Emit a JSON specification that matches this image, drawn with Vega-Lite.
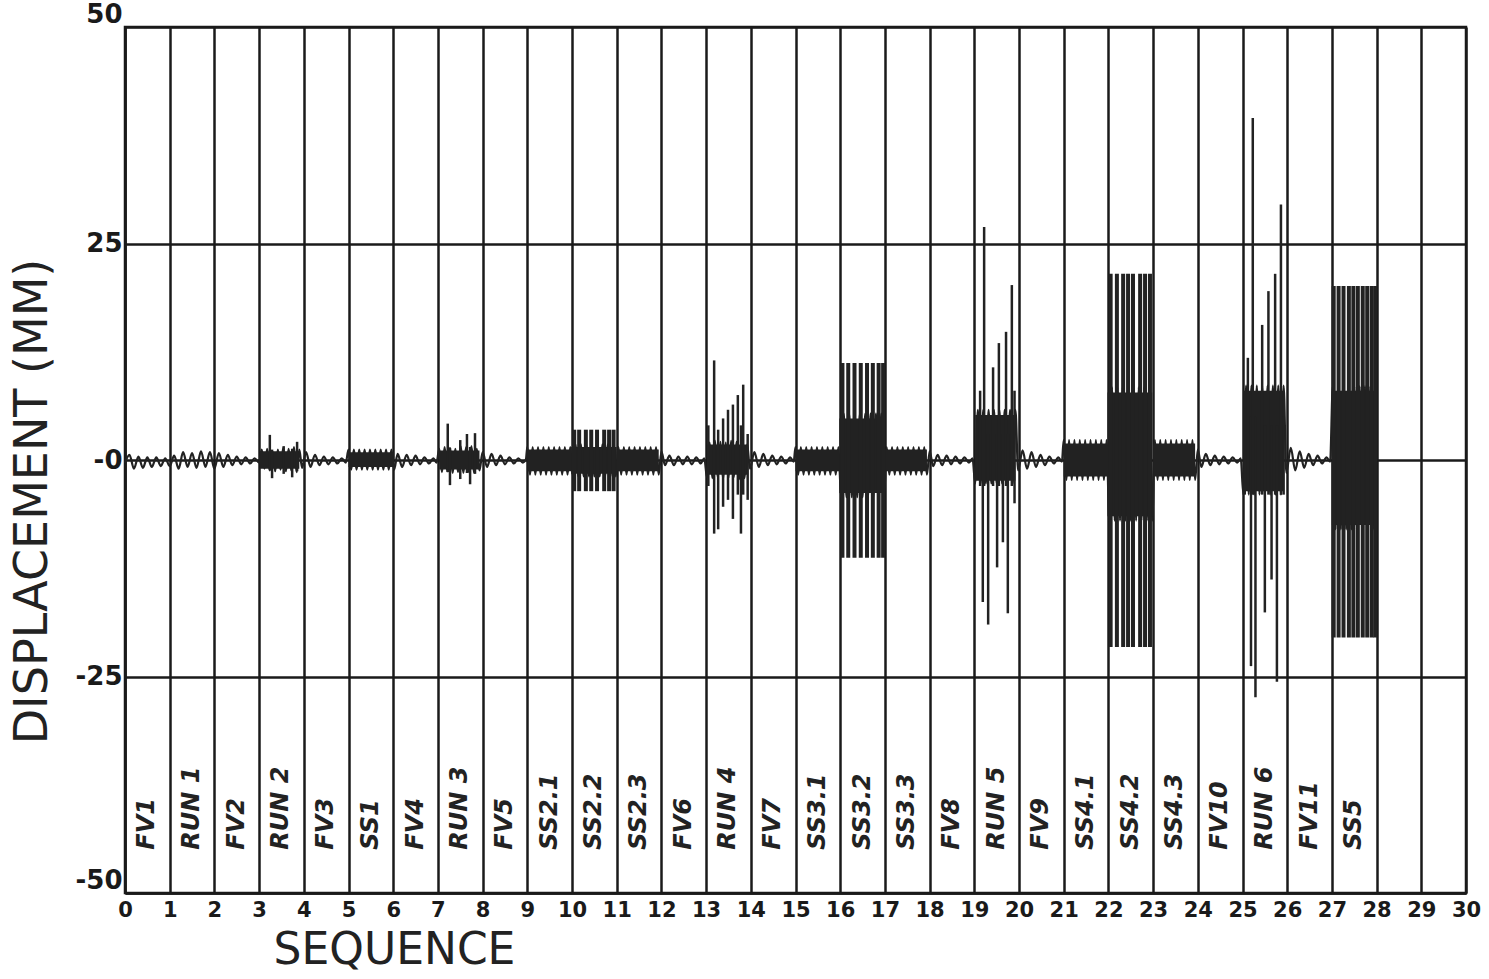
{
  "$schema": "https://vega.github.io/schema/vega-lite/v6.json",
  "width": 1341,
  "height": 866,
  "autosize": "none",
  "padding": {"left": 125, "top": 27, "right": 23, "bottom": 86},
  "background": "white",
  "view": {"stroke": "#1a1a1a", "strokeWidth": 2.5},
  "datasets": {
    "trace": [
      {"x":0,"y":-0.3},{"x":0.1,"y":0.6},{"x":0.2,"y":-1.0},{"x":0.3,"y":0.4},{"x":0.4,"y":-0.9},{"x":0.5,"y":0.3},{"x":0.6,"y":-0.8},{"x":0.7,"y":0.3},{"x":0.8,"y":-0.7},{"x":0.9,"y":0.2},
      {"x":1.0,"y":-0.7},{"x":1.1,"y":0.5},{"x":1.2,"y":-1.0},{"x":1.3,"y":0.9},{"x":1.4,"y":-0.8},{"x":1.5,"y":0.8},{"x":1.6,"y":-0.9},{"x":1.7,"y":1.0},{"x":1.8,"y":-0.8},{"x":1.9,"y":0.9},
      {"x":2.0,"y":-1.0},{"x":2.1,"y":0.8},{"x":2.2,"y":-0.8},{"x":2.3,"y":0.6},{"x":2.4,"y":-0.6},{"x":2.5,"y":0.4},{"x":2.6,"y":-0.5},{"x":2.7,"y":0.3},{"x":2.8,"y":-0.4},{"x":2.9,"y":0.2},{"x":3.0,"y":-0.3},
      {"x":3.06,"y":1.2},{"x":3.12,"y":-1.0},{"x":3.18,"y":1.3},{"x":3.24,"y":-1.2},{"x":3.3,"y":1.0},{"x":3.36,"y":-1.3},{"x":3.42,"y":1.2},{"x":3.48,"y":-1.1},{"x":3.54,"y":1.4},{"x":3.6,"y":-1.3},{"x":3.66,"y":1.3},{"x":3.72,"y":-1.2},{"x":3.78,"y":1.5},{"x":3.84,"y":-1.4},{"x":3.9,"y":1.2},
      {"x":3.96,"y":-0.9},{"x":4.05,"y":0.9},{"x":4.15,"y":-0.8},{"x":4.25,"y":0.6},{"x":4.35,"y":-0.6},{"x":4.45,"y":0.4},{"x":4.55,"y":-0.5},{"x":4.65,"y":0.3},{"x":4.75,"y":-0.4},{"x":4.85,"y":0.2},{"x":4.94,"y":-0.3},
      {"x":5.0,"y":1.2},{"x":5.06,"y":-1.1},{"x":5.12,"y":1.2},{"x":5.18,"y":-1.1},{"x":5.24,"y":1.2},{"x":5.3,"y":-1.1},{"x":5.36,"y":1.2},{"x":5.42,"y":-1.1},{"x":5.48,"y":1.2},{"x":5.54,"y":-1.1},{"x":5.6,"y":1.2},{"x":5.66,"y":-1.1},{"x":5.72,"y":1.2},{"x":5.78,"y":-1.1},{"x":5.84,"y":1.2},{"x":5.9,"y":-1.1},{"x":5.96,"y":1.2},{"x":6.02,"y":-1.1},
      {"x":6.1,"y":0.7},{"x":6.2,"y":-0.8},{"x":6.3,"y":0.6},{"x":6.4,"y":-0.6},{"x":6.5,"y":0.5},{"x":6.6,"y":-0.5},{"x":6.7,"y":0.3},{"x":6.8,"y":-0.4},{"x":6.9,"y":0.2},{"x":6.97,"y":-0.3},
      {"x":7.03,"y":1.3},{"x":7.09,"y":-1.4},{"x":7.15,"y":1.5},{"x":7.21,"y":-1.3},{"x":7.27,"y":1.4},{"x":7.33,"y":-1.5},{"x":7.39,"y":1.3},{"x":7.45,"y":-1.4},{"x":7.51,"y":1.6},{"x":7.57,"y":-1.5},{"x":7.63,"y":1.5},{"x":7.69,"y":-1.4},{"x":7.75,"y":1.6},{"x":7.81,"y":-1.5},{"x":7.87,"y":1.3},{"x":7.93,"y":-1.2},
      {"x":8.0,"y":0.9},{"x":8.1,"y":-0.8},{"x":8.2,"y":0.7},{"x":8.3,"y":-0.6},{"x":8.4,"y":0.5},{"x":8.5,"y":-0.5},{"x":8.6,"y":0.3},{"x":8.7,"y":-0.4},{"x":8.8,"y":0.2},{"x":8.9,"y":-0.3},{"x":8.97,"y":0.1},
      {"x":9.0,"y":1.5},{"x":9.06,"y":-1.7},{"x":9.12,"y":1.5},{"x":9.18,"y":-1.7},{"x":9.24,"y":1.5},{"x":9.3,"y":-1.7},{"x":9.36,"y":1.5},{"x":9.42,"y":-1.7},{"x":9.48,"y":1.5},{"x":9.54,"y":-1.7},{"x":9.6,"y":1.5},{"x":9.66,"y":-1.7},{"x":9.72,"y":1.5},{"x":9.78,"y":-1.7},{"x":9.84,"y":1.5},{"x":9.9,"y":-1.7},{"x":9.96,"y":1.5},
      {"x":10.02,"y":-1.9},{"x":10.08,"y":1.8},{"x":10.14,"y":-1.9},{"x":10.2,"y":1.8},{"x":10.26,"y":-1.9},{"x":10.32,"y":1.8},{"x":10.38,"y":-1.9},{"x":10.44,"y":1.8},{"x":10.5,"y":-1.9},{"x":10.56,"y":1.8},{"x":10.62,"y":-1.9},{"x":10.68,"y":1.8},{"x":10.74,"y":-1.9},{"x":10.8,"y":1.8},{"x":10.86,"y":-1.9},{"x":10.92,"y":1.8},{"x":10.98,"y":-1.9},
      {"x":11.04,"y":1.5},{"x":11.1,"y":-1.7},{"x":11.16,"y":1.5},{"x":11.22,"y":-1.7},{"x":11.28,"y":1.5},{"x":11.34,"y":-1.7},{"x":11.4,"y":1.5},{"x":11.46,"y":-1.7},{"x":11.52,"y":1.5},{"x":11.58,"y":-1.7},{"x":11.64,"y":1.5},{"x":11.7,"y":-1.7},{"x":11.76,"y":1.5},{"x":11.82,"y":-1.7},{"x":11.88,"y":1.5},{"x":11.94,"y":-1.7},{"x":12.0,"y":1.0},
      {"x":12.08,"y":-0.6},{"x":12.18,"y":0.5},{"x":12.28,"y":-0.6},{"x":12.38,"y":0.4},{"x":12.48,"y":-0.5},{"x":12.58,"y":0.4},{"x":12.68,"y":-0.5},{"x":12.78,"y":0.3},{"x":12.88,"y":-0.4},{"x":12.96,"y":0.2},
      {"x":13.02,"y":-2.0},{"x":13.08,"y":2.0},{"x":13.14,"y":-2.1},{"x":13.2,"y":2.2},{"x":13.26,"y":-2.0},{"x":13.32,"y":2.1},{"x":13.38,"y":-2.2},{"x":13.44,"y":2.0},{"x":13.5,"y":-2.1},{"x":13.56,"y":2.2},{"x":13.62,"y":-2.0},{"x":13.68,"y":2.1},{"x":13.74,"y":-2.2},{"x":13.8,"y":2.0},{"x":13.86,"y":-2.1},{"x":13.92,"y":1.8},
      {"x":13.98,"y":-1.0},{"x":14.08,"y":0.9},{"x":14.18,"y":-0.8},{"x":14.28,"y":0.7},{"x":14.38,"y":-0.6},{"x":14.48,"y":0.5},{"x":14.58,"y":-0.5},{"x":14.68,"y":0.4},{"x":14.78,"y":-0.4},{"x":14.88,"y":0.3},{"x":14.96,"y":-0.2},
      {"x":15.0,"y":1.5},{"x":15.06,"y":-1.7},{"x":15.12,"y":1.5},{"x":15.18,"y":-1.7},{"x":15.24,"y":1.5},{"x":15.3,"y":-1.7},{"x":15.36,"y":1.5},{"x":15.42,"y":-1.7},{"x":15.48,"y":1.5},{"x":15.54,"y":-1.7},{"x":15.6,"y":1.5},{"x":15.66,"y":-1.7},{"x":15.72,"y":1.5},{"x":15.78,"y":-1.7},{"x":15.84,"y":1.5},{"x":15.9,"y":-1.7},{"x":15.96,"y":1.5},
      {"x":16.02,"y":-4.3},{"x":16.08,"y":5.4},{"x":16.14,"y":-4.3},{"x":16.2,"y":5.4},{"x":16.26,"y":-4.3},{"x":16.32,"y":5.4},{"x":16.38,"y":-4.3},{"x":16.44,"y":5.4},{"x":16.5,"y":-4.3},{"x":16.56,"y":5.4},{"x":16.62,"y":-4.3},{"x":16.68,"y":5.4},{"x":16.74,"y":-4.3},{"x":16.8,"y":5.4},{"x":16.86,"y":-4.3},{"x":16.92,"y":5.4},{"x":16.98,"y":-4.3},
      {"x":17.04,"y":1.5},{"x":17.1,"y":-1.7},{"x":17.16,"y":1.5},{"x":17.22,"y":-1.7},{"x":17.28,"y":1.5},{"x":17.34,"y":-1.7},{"x":17.4,"y":1.5},{"x":17.46,"y":-1.7},{"x":17.52,"y":1.5},{"x":17.58,"y":-1.7},{"x":17.64,"y":1.5},{"x":17.7,"y":-1.7},{"x":17.76,"y":1.5},{"x":17.82,"y":-1.7},{"x":17.88,"y":1.5},{"x":17.94,"y":-1.7},{"x":18.0,"y":1.0},
      {"x":18.08,"y":-0.7},{"x":18.18,"y":0.6},{"x":18.28,"y":-0.6},{"x":18.38,"y":0.5},{"x":18.48,"y":-0.5},{"x":18.58,"y":0.4},{"x":18.68,"y":-0.4},{"x":18.78,"y":0.3},{"x":18.88,"y":-0.3},{"x":18.96,"y":0.2},
      {"x":19.02,"y":-2.7},{"x":19.08,"y":5.8},{"x":19.14,"y":-2.7},{"x":19.2,"y":5.8},{"x":19.26,"y":-2.7},{"x":19.32,"y":5.8},{"x":19.38,"y":-2.7},{"x":19.44,"y":5.8},{"x":19.5,"y":-2.7},{"x":19.56,"y":5.8},{"x":19.62,"y":-2.7},{"x":19.68,"y":5.8},{"x":19.74,"y":-2.7},{"x":19.8,"y":5.8},{"x":19.86,"y":-2.7},{"x":19.92,"y":5.8},
      {"x":19.98,"y":-1.2},{"x":20.08,"y":1.1},{"x":20.18,"y":-1.0},{"x":20.28,"y":0.9},{"x":20.38,"y":-0.8},{"x":20.48,"y":0.6},{"x":20.58,"y":-0.6},{"x":20.68,"y":0.4},{"x":20.78,"y":-0.4},{"x":20.88,"y":0.3},{"x":20.96,"y":-0.2},
      {"x":21.0,"y":2.3},{"x":21.06,"y":-2.3},{"x":21.12,"y":2.3},{"x":21.18,"y":-2.3},{"x":21.24,"y":2.3},{"x":21.3,"y":-2.3},{"x":21.36,"y":2.3},{"x":21.42,"y":-2.3},{"x":21.48,"y":2.3},{"x":21.54,"y":-2.3},{"x":21.6,"y":2.3},{"x":21.66,"y":-2.3},{"x":21.72,"y":2.3},{"x":21.78,"y":-2.3},{"x":21.84,"y":2.3},{"x":21.9,"y":-2.3},{"x":21.96,"y":2.3},
      {"x":22.02,"y":-7.0},{"x":22.08,"y":8.4},{"x":22.14,"y":-7.0},{"x":22.2,"y":8.4},{"x":22.26,"y":-7.0},{"x":22.32,"y":8.4},{"x":22.38,"y":-7.0},{"x":22.44,"y":8.4},{"x":22.5,"y":-7.0},{"x":22.56,"y":8.4},{"x":22.62,"y":-7.0},{"x":22.68,"y":8.4},{"x":22.74,"y":-7.0},{"x":22.8,"y":8.4},{"x":22.86,"y":-7.0},{"x":22.92,"y":8.4},{"x":22.98,"y":-7.0},
      {"x":23.04,"y":2.3},{"x":23.1,"y":-2.3},{"x":23.16,"y":2.3},{"x":23.22,"y":-2.3},{"x":23.28,"y":2.3},{"x":23.34,"y":-2.3},{"x":23.4,"y":2.3},{"x":23.46,"y":-2.3},{"x":23.52,"y":2.3},{"x":23.58,"y":-2.3},{"x":23.64,"y":2.3},{"x":23.7,"y":-2.3},{"x":23.76,"y":2.3},{"x":23.82,"y":-2.3},{"x":23.88,"y":2.3},{"x":23.94,"y":-2.3},{"x":24.0,"y":1.2},
      {"x":24.08,"y":-0.8},{"x":24.18,"y":0.7},{"x":24.28,"y":-0.6},{"x":24.38,"y":0.5},{"x":24.48,"y":-0.5},{"x":24.58,"y":0.4},{"x":24.68,"y":-0.4},{"x":24.78,"y":0.3},{"x":24.88,"y":-0.3},{"x":24.96,"y":0.2},
      {"x":25.02,"y":-4.0},{"x":25.08,"y":8.6},{"x":25.14,"y":-4.0},{"x":25.2,"y":8.6},{"x":25.26,"y":-4.0},{"x":25.32,"y":8.6},{"x":25.38,"y":-4.0},{"x":25.44,"y":8.6},{"x":25.5,"y":-4.0},{"x":25.56,"y":8.6},{"x":25.62,"y":-4.0},{"x":25.68,"y":8.6},{"x":25.74,"y":-4.0},{"x":25.8,"y":8.6},{"x":25.86,"y":-4.0},{"x":25.92,"y":8.6},
      {"x":25.98,"y":-1.5},{"x":26.08,"y":1.4},{"x":26.18,"y":-1.2},{"x":26.28,"y":1.0},{"x":26.38,"y":-0.9},{"x":26.48,"y":0.7},{"x":26.58,"y":-0.6},{"x":26.68,"y":0.5},{"x":26.78,"y":-0.4},{"x":26.88,"y":0.3},{"x":26.96,"y":-0.2},
      {"x":27.02,"y":8.5},{"x":27.08,"y":-8.0},{"x":27.14,"y":8.5},{"x":27.2,"y":-8.0},{"x":27.26,"y":8.5},{"x":27.32,"y":-8.0},{"x":27.38,"y":8.5},{"x":27.44,"y":-8.0},{"x":27.5,"y":8.5},{"x":27.56,"y":-8.0},{"x":27.62,"y":8.5},{"x":27.68,"y":-8.0},{"x":27.74,"y":8.5},{"x":27.8,"y":-8.0},{"x":27.86,"y":8.5},{"x":27.92,"y":-8.0},{"x":27.98,"y":8.5}
    ],
    "bands": [
      {"x":3.02,"x2":3.9,"lo":-1.0,"hi":1.0},
      {"x":5.0,"x2":6.02,"lo":-0.8,"hi":0.9},
      {"x":7.03,"x2":7.93,"lo":-1.1,"hi":1.1},
      {"x":9.0,"x2":9.98,"lo":-1.3,"hi":1.2},
      {"x":9.98,"x2":11.0,"lo":-1.6,"hi":1.5},
      {"x":11.0,"x2":11.94,"lo":-1.3,"hi":1.2},
      {"x":13.02,"x2":13.92,"lo":-1.7,"hi":1.8},
      {"x":15.0,"x2":15.98,"lo":-1.3,"hi":1.2},
      {"x":15.98,"x2":16.98,"lo":-3.8,"hi":4.8},
      {"x":17.0,"x2":17.94,"lo":-1.3,"hi":1.2},
      {"x":19.02,"x2":19.92,"lo":-2.4,"hi":5.2},
      {"x":21.0,"x2":21.98,"lo":-1.9,"hi":1.9},
      {"x":21.98,"x2":22.98,"lo":-6.5,"hi":7.8},
      {"x":23.0,"x2":23.94,"lo":-1.9,"hi":1.9},
      {"x":25.02,"x2":25.92,"lo":-3.6,"hi":8.0},
      {"x":27.0,"x2":27.98,"lo":-7.5,"hi":8.0}
    ],
    "runSpikes": [
      {"x":3.24,"lo":-1.2,"hi":2.9},{"x":3.29,"lo":-2.1,"hi":1.2},{"x":3.55,"lo":-1.6,"hi":1.6},{"x":3.74,"lo":-2.0,"hi":1.3},{"x":3.85,"lo":-1.3,"hi":2.1},
      {"x":7.22,"lo":-1.4,"hi":4.2},{"x":7.27,"lo":-2.9,"hi":1.4},{"x":7.5,"lo":-2.2,"hi":2.3},{"x":7.65,"lo":-1.5,"hi":3.0},{"x":7.72,"lo":-2.8,"hi":1.5},{"x":7.83,"lo":-1.6,"hi":3.1},
      {"x":13.05,"lo":-3.0,"hi":4.0},{"x":13.18,"lo":-8.5,"hi":11.5},{"x":13.27,"lo":-8.0,"hi":3.5},{"x":13.38,"lo":-5.4,"hi":4.8},{"x":13.49,"lo":-4.6,"hi":5.8},{"x":13.6,"lo":-6.8,"hi":6.4},{"x":13.71,"lo":-4.0,"hi":7.5},{"x":13.78,"lo":-8.5,"hi":4.0},{"x":13.83,"lo":-4.0,"hi":8.7},{"x":13.93,"lo":-4.6,"hi":3.0},
      {"x":19.13,"lo":-3.0,"hi":8.0},{"x":19.19,"lo":-16.4,"hi":5.0},{"x":19.22,"lo":-3.0,"hi":26.9},{"x":19.31,"lo":-19.0,"hi":3.0},{"x":19.42,"lo":-3.0,"hi":10.7},{"x":19.51,"lo":-12.4,"hi":3.0},{"x":19.55,"lo":-3.0,"hi":13.5},{"x":19.64,"lo":-9.5,"hi":3.0},{"x":19.71,"lo":-3.0,"hi":14.8},{"x":19.75,"lo":-17.7,"hi":3.0},{"x":19.84,"lo":-3.0,"hi":20.2},{"x":19.9,"lo":-5.0,"hi":8.0},
      {"x":25.05,"lo":-4.0,"hi":6.0},{"x":25.12,"lo":-3.0,"hi":11.8},{"x":25.19,"lo":-23.8,"hi":5.0},{"x":25.23,"lo":-4.0,"hi":39.5},{"x":25.29,"lo":-27.4,"hi":5.0},{"x":25.44,"lo":-4.0,"hi":15.6},{"x":25.5,"lo":-17.6,"hi":4.0},{"x":25.58,"lo":-4.0,"hi":19.5},{"x":25.65,"lo":-13.8,"hi":4.0},{"x":25.73,"lo":-4.0,"hi":21.5},{"x":25.77,"lo":-25.6,"hi":4.0},{"x":25.86,"lo":-4.0,"hi":29.5},{"x":25.92,"lo":-4.0,"hi":5.0}
    ],
    "ssSpikes": [
      {"x":10.05,"lo":-3.6,"hi":3.5},{"x":10.16,"lo":-3.6,"hi":3.5},{"x":10.31,"lo":-3.6,"hi":3.5},{"x":10.43,"lo":-3.6,"hi":3.5},{"x":10.56,"lo":-3.6,"hi":3.5},{"x":10.72,"lo":-3.6,"hi":3.5},{"x":10.83,"lo":-3.6,"hi":3.5},{"x":10.93,"lo":-3.6,"hi":3.5},
      {"x":16.05,"lo":-11.3,"hi":11.2},{"x":16.18,"lo":-11.3,"hi":11.2},{"x":16.32,"lo":-11.3,"hi":11.2},{"x":16.46,"lo":-11.3,"hi":11.2},{"x":16.6,"lo":-11.3,"hi":11.2},{"x":16.73,"lo":-11.3,"hi":11.2},{"x":16.86,"lo":-11.3,"hi":11.2},{"x":16.96,"lo":-11.3,"hi":11.2},
      {"x":22.05,"lo":-21.6,"hi":21.5},{"x":22.19,"lo":-21.6,"hi":21.5},{"x":22.33,"lo":-21.6,"hi":21.5},{"x":22.44,"lo":-21.6,"hi":21.5},{"x":22.55,"lo":-21.6,"hi":21.5},{"x":22.71,"lo":-21.6,"hi":21.5},{"x":22.82,"lo":-21.6,"hi":21.5},{"x":22.93,"lo":-21.6,"hi":21.5},
      {"x":27.04,"lo":-20.5,"hi":20.1},{"x":27.15,"lo":-20.5,"hi":20.1},{"x":27.26,"lo":-20.5,"hi":20.1},{"x":27.38,"lo":-20.5,"hi":20.1},{"x":27.48,"lo":-20.5,"hi":20.1},{"x":27.58,"lo":-20.5,"hi":20.1},{"x":27.69,"lo":-20.5,"hi":20.1},{"x":27.79,"lo":-20.5,"hi":20.1},{"x":27.89,"lo":-20.5,"hi":20.1},{"x":27.97,"lo":-20.5,"hi":20.1}
    ],
    "labels": [
      {"x":0.5,"label":"FV1"},{"x":1.5,"label":"RUN 1"},{"x":2.5,"label":"FV2"},{"x":3.5,"label":"RUN 2"},{"x":4.5,"label":"FV3"},{"x":5.5,"label":"SS1"},{"x":6.5,"label":"FV4"},{"x":7.5,"label":"RUN 3"},{"x":8.5,"label":"FV5"},{"x":9.5,"label":"SS2.1"},{"x":10.5,"label":"SS2.2"},{"x":11.5,"label":"SS2.3"},{"x":12.5,"label":"FV6"},{"x":13.5,"label":"RUN 4"},{"x":14.5,"label":"FV7"},{"x":15.5,"label":"SS3.1"},{"x":16.5,"label":"SS3.2"},{"x":17.5,"label":"SS3.3"},{"x":18.5,"label":"FV8"},{"x":19.5,"label":"RUN 5"},{"x":20.5,"label":"FV9"},{"x":21.5,"label":"SS4.1"},{"x":22.5,"label":"SS4.2"},{"x":23.5,"label":"SS4.3"},{"x":24.5,"label":"FV10"},{"x":25.5,"label":"RUN 6"},{"x":26.5,"label":"FV11"},{"x":27.5,"label":"SS5"}
    ]
  },
  "layer": [
    {
      "data": {"name": "trace"},
      "mark": {"type": "line", "color": "#222222", "strokeWidth": 2.2, "interpolate": "monotone"},
      "encoding": {
        "x": {
          "field": "x", "type": "quantitative",
          "scale": {"domain": [0, 30], "nice": false, "zero": false},
          "title": "SEQUENCE",
          "axis": {
            "values": [0,1,2,3,4,5,6,7,8,9,10,11,12,13,14,15,16,17,18,19,20,21,22,23,24,25,26,27,28,29,30],
            "format": "d",
            "labelFontSize": 21,
            "labelPadding": 6,
            "labelFlush": false,
            "labelOverlap": false,
            "titleFontSize": 44,
            "titleX": 269,
            "titleY": 57,
            "titleAlign": "center",
            "titleBaseline": "middle"
          }
        },
        "y": {
          "field": "y", "type": "quantitative",
          "scale": {"domain": [-50, 50], "nice": false, "zero": false},
          "title": "DISPLACEMENT (MM)",
          "axis": {
            "values": [-50, -25, 0, 25, 50],
            "labelExpr": "datum.value == 0 ? '-0' : (datum.value < 0 ? '-' + abs(datum.value) : '' + datum.value)",
            "labelFontSize": 26,
            "labelPadding": 3,
            "labelFlush": false,
            "labelBaseline": {"condition": {"test": "abs(datum.value) == 50", "value": "bottom"}, "value": "middle"},
            "titleFontSize": 46,
            "titleAngle": 270,
            "titleX": -93,
            "titleY": 474,
            "titleAlign": "center",
            "titleBaseline": "middle"
          }
        }
      }
    },
    {
      "data": {"name": "bands"},
      "mark": {"type": "rect", "color": "#222222"},
      "encoding": {
        "x": {"field": "x", "type": "quantitative", "title": "SEQUENCE"},
        "x2": {"field": "x2"},
        "y": {"field": "lo", "type": "quantitative", "title": "DISPLACEMENT (MM)"},
        "y2": {"field": "hi"}
      }
    },
    {
      "data": {"name": "runSpikes"},
      "mark": {"type": "rule", "color": "#222222", "strokeWidth": 2.5},
      "encoding": {
        "x": {"field": "x", "type": "quantitative", "title": "SEQUENCE"},
        "y": {"field": "lo", "type": "quantitative", "title": "DISPLACEMENT (MM)"},
        "y2": {"field": "hi"}
      }
    },
    {
      "data": {"name": "ssSpikes"},
      "mark": {"type": "rule", "color": "#222222", "strokeWidth": 4},
      "encoding": {
        "x": {"field": "x", "type": "quantitative", "title": "SEQUENCE"},
        "y": {"field": "lo", "type": "quantitative", "title": "DISPLACEMENT (MM)"},
        "y2": {"field": "hi"}
      }
    },
    {
      "data": {"name": "labels"},
      "mark": {"type": "text", "angle": 270, "align": "left", "baseline": "middle", "fontSize": 24, "fontStyle": "italic", "fontWeight": "bold", "color": "#222222", "font": "DejaVu Sans"},
      "encoding": {
        "x": {"field": "x", "type": "quantitative", "title": "SEQUENCE"},
        "y": {"datum": -45, "type": "quantitative", "title": "DISPLACEMENT (MM)"},
        "text": {"field": "label"}
      }
    }
  ],
  "config": {
    "font": "DejaVu Sans",
    "axis": {
      "grid": true,
      "gridColor": "#1a1a1a",
      "gridWidth": 2.5,
      "gridOpacity": 1,
      "domainColor": "#1a1a1a",
      "domainWidth": 2.5,
      "ticks": false,
      "labelColor": "#1a1a1a",
      "labelFontWeight": "bold",
      "labelFont": "DejaVu Sans",
      "titleColor": "#222222",
      "titleFontWeight": "normal",
      "titleFont": "DejaVu Sans"
    }
  }
}
